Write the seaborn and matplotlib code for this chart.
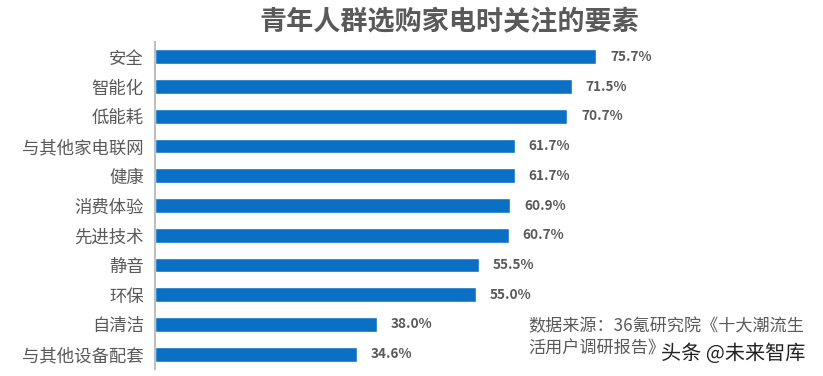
import pandas as pd
import matplotlib.pyplot as plt
import matplotlib.patheffects as pe
import seaborn as sns

# chart data
factors = ['安全', '智能化', '低能耗', '与其他家电联网', '健康', '消费体验',
           '先进技术', '静音', '环保', '自清洁', '与其他设备配套']
shares = [75.7, 71.5, 70.7, 61.7, 61.7, 60.9, 60.7, 55.5, 55.0, 38.0, 34.6]

title = '青年人群选购家电时关注的要素'
source_line1 = '数据来源：36氪研究院《十大潮流生'
source_line2 = '活用户调研报告》'
watermark = '头条 @未来智库'

sns.set_theme(style='white')
plt.rcParams['font.family'] = ['Noto Sans CJK SC', 'DejaVu Sans']

df = pd.DataFrame({'要素': factors, '占比': shares})

fig = plt.figure(figsize=(8.23, 3.76), dpi=100)
ax = fig.add_axes([155 / 823, 1 - 369 / 376, 1 - 155 / 823, (369 - 42) / 376])

sns.barplot(data=df, x='占比', y='要素', orient='h', color='#0a70c6',
            width=0.5, saturation=1, ax=ax)

for i, v in enumerate(shares):
    ax.text(v + 2.4, i, f'{v:.1f}%', va='center', ha='left',
            fontsize=9.8, fontweight='bold', color='#595959')

ax.set_xlim(0, 114.6)
ax.set_ylim(10.5, -0.5)
ax.set_xlabel('')
ax.set_ylabel('')
ax.set_xticks([])
ax.tick_params(axis='y', length=0, pad=8, labelsize=12.5, labelcolor='#595959')
for s in ['top', 'right', 'bottom']:
    ax.spines[s].set_visible(False)
ax.spines['left'].set_color('#bfbfbf')
ax.spines['left'].set_linewidth(1.5)

fig.text(449 / 823, 1 - 22 / 376, title, ha='center', va='center',
         fontsize=19.5, fontweight='bold', color='#595959')
fig.text(528 / 823, 1 - 326 / 376, source_line1, ha='left', va='center',
         fontsize=12.3, color='#595959')
fig.text(528 / 823, 1 - 349 / 376, source_line2, ha='left', va='center',
         fontsize=12.3, color='#595959')
fig.text(661 / 823, 1 - 354 / 376, watermark, ha='left', va='center',
         fontsize=14.5, color='#222222',
         path_effects=[pe.withStroke(linewidth=2, foreground='white')])

fig.savefig('out.png', dpi=100)
